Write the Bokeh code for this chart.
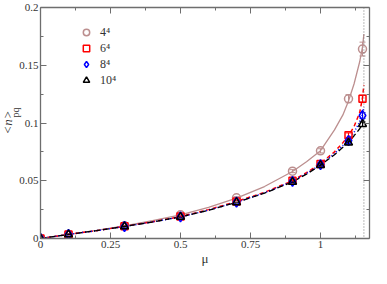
from bokeh.plotting import figure
from bokeh.models import (FixedTicker, LinearAxis, Span, Whisker, ColumnDataSource,
                          Legend, LegendItem, Title, Range1d)
from bokeh.embed import file_html
from bokeh.resources import INLINE

# ---- data ----
mu = [0.0, 0.1, 0.3, 0.5, 0.7, 0.9, 1.0, 1.1, 1.15]
n_L4 = [0.0, 0.0035, 0.0110, 0.0205, 0.0352, 0.0583, 0.0759, 0.1210, 0.1640]
n_L6 = [0.0, 0.0035, 0.0105, 0.0190, 0.0320, 0.0500, 0.0645, 0.0894, 0.1210]
n_L8 = [0.0, 0.0035, 0.0104, 0.0187, 0.0315, 0.0495, 0.0640, 0.0848, 0.1065]
n_L10 = [0.0, 0.0035, 0.0104, 0.0187, 0.0313, 0.0490, 0.0635, 0.0830, 0.0990]
err_L4 = [0.0, 0.0003, 0.0005, 0.0007, 0.0010, 0.0013, 0.0018, 0.0035, 0.0060]
err_L6 = [0.0, 0.0002, 0.0003, 0.0005, 0.0007, 0.0009, 0.0012, 0.0020, 0.0030]
err_L8 = [0.0, 0.0002, 0.0003, 0.0004, 0.0006, 0.0008, 0.0010, 0.0015, 0.0025]
err_L10 = [0.0, 0.0002, 0.0003, 0.0004, 0.0005, 0.0007, 0.0009, 0.0013, 0.0020]

fit_mu = [0.0, 0.1, 0.2, 0.3, 0.4, 0.5, 0.6, 0.7, 0.8, 0.9, 0.95, 1.0, 1.05, 1.08,
          1.1, 1.12, 1.14, 1.15, 1.155]
fit_L4 = [0.0, 0.0035, 0.0070, 0.0110, 0.0155, 0.0205, 0.0270, 0.0350, 0.0450, 0.0580,
          0.0665, 0.0760, 0.0940, 0.1070, 0.1190, 0.1340, 0.1530, 0.1660, 0.1770]
fit_L6 = [0.0, 0.0035, 0.0068, 0.0105, 0.0145, 0.0190, 0.0250, 0.0320, 0.0400, 0.0500,
          0.0570, 0.0650, 0.0750, 0.0830, 0.0890, 0.0970, 0.1090, 0.1220, 0.1330]
fit_L8 = [0.0, 0.0035, 0.0068, 0.0104, 0.0143, 0.0187, 0.0245, 0.0315, 0.0395, 0.0495,
          0.0563, 0.0640, 0.0735, 0.0805, 0.0855, 0.0920, 0.1010, 0.1080, 0.1140]
fit_L10 = [0.0, 0.0035, 0.0068, 0.0104, 0.0143, 0.0187, 0.0244, 0.0313, 0.0392, 0.0490,
           0.0557, 0.0635, 0.0725, 0.0790, 0.0835, 0.0890, 0.0950, 0.0990, 0.1030]

mu_c = 1.155
labels = ["4\u2074", "6\u2074", "8\u2074", "10\u2074"]
x_ticks = [0.0, 0.25, 0.5, 0.75, 1.0]
x_tick_labels = ["0", "0.25", "0.5", "0.75", "1"]
y_ticks = [0.0, 0.05, 0.1, 0.15, 0.2]
y_tick_labels = ["0", "0.05", "0.1", "0.15", "0.2"]
x_minor = [0.125, 0.375, 0.625, 0.875, 1.125]
y_minor = [0.025, 0.075, 0.125, 0.175]

FONT = "Liberation Serif"
AXC = "#6e6e6e"
TXC = "#333333"

p = figure(width=371, height=268, output_backend="svg", toolbar_location=None,
           x_range=Range1d(0, 1.175), y_range=Range1d(0, 0.2),
           min_border_left=0, min_border_right=2, min_border_top=7, min_border_bottom=26,
           x_axis_location=None, y_axis_location=None)
p.grid.visible = False
p.outline_line_color = None
p.background_fill_color = "white"


def style_axis(ax, ticks, minor, tick_labels=None):
    ax.ticker = FixedTicker(ticks=ticks, minor_ticks=minor)
    ax.axis_line_color = AXC
    ax.axis_line_width = 1.3
    ax.major_tick_line_color = AXC
    ax.minor_tick_line_color = AXC
    ax.major_tick_in = 6
    ax.major_tick_out = 0
    ax.minor_tick_in = 3
    ax.minor_tick_out = 0
    if tick_labels is None:
        ax.major_label_text_font_size = "0px"
        ax.major_label_text_alpha = 0
        ax.major_label_overrides = {t: "" for t in ticks}
        ax.major_label_standoff = 0
    else:
        ax.major_label_overrides = {t: s for t, s in zip(ticks, tick_labels)}
        ax.major_label_text_font = FONT
        ax.major_label_text_font_size = "11px"
        ax.major_label_text_color = TXC
        ax.major_label_standoff = 2


xb = LinearAxis()
style_axis(xb, x_ticks, x_minor, x_tick_labels)
xb.axis_label = "\u03bc"
xb.axis_label_text_font = FONT
xb.axis_label_text_font_style = "normal"
xb.axis_label_text_font_size = "13px"
xb.axis_label_text_color = TXC
xb.axis_label_standoff = 0
p.add_layout(xb, "below")

yl = LinearAxis()
style_axis(yl, y_ticks, y_minor, y_tick_labels)
p.add_layout(yl, "left")

# y-axis label "<n>pq": subscript next to the axis, main part outside it
# (align="left" on a left panel: text starts `offset` px above the frame bottom)
p.add_layout(Title(text="pq", align="left", offset=121, standoff=-8,
                   text_font=FONT, text_font_size="10px", text_font_style="normal",
                   text_color=TXC), "left")
p.add_layout(Title(text="<n>", align="left", offset=104, standoff=-6,
                   text_font=FONT, text_font_size="13px", text_font_style="italic",
                   text_color=TXC), "left")

xt = LinearAxis()
style_axis(xt, x_ticks, x_minor)
p.add_layout(xt, "above")

yr = LinearAxis()
style_axis(yr, y_ticks, y_minor)
p.add_layout(yr, "right")

p.add_layout(Span(location=mu_c, dimension="height", line_color="#777777",
                  line_dash="1 2", line_width=1))

series = [
    (n_L4, err_L4, fit_L4, "#bc8f8f", "circle", 8, None, 1.3),
    (n_L6, err_L6, fit_L6, "#ff0000", "square", 7, "4 3", 1.5),
    (n_L8, err_L8, fit_L8, "#0000ff", "diamond", 10, "1 2", 1.5),
    (n_L10, err_L10, fit_L10, "#000000", "triangle", 8, "6 3", 1.3),
]

items = []
for (vals, errs, fit, col, mk, sz, dash, lw), lab in zip(series, labels):
    kw = dict(line_color=col, line_width=lw)
    if dash:
        kw["line_dash"] = dash
    p.line(fit_mu, fit, **kw)

for (vals, errs, fit, col, mk, sz, dash, lw), lab in zip(series, labels):
    src = ColumnDataSource(dict(x=mu, y=vals,
                                lo=[v - e for v, e in zip(vals, errs)],
                                hi=[v + e for v, e in zip(vals, errs)]))
    w = Whisker(base="x", upper="hi", lower="lo", source=src, line_color=col,
                line_width=1)
    w.upper_head.size = 6
    w.lower_head.size = 6
    w.upper_head.line_color = col
    w.lower_head.line_color = col
    p.add_layout(w)
    r = p.scatter("x", "y", source=src, marker=mk, size=sz, fill_color=None,
                  line_color=col, line_width=1.5)
    items.append(LegendItem(label=lab, renderers=[r]))

leg = Legend(items=items, location=(36, 150), orientation="vertical",
             background_fill_alpha=0, border_line_alpha=0,
             label_text_font=FONT, label_text_font_size="12px",
             label_text_color=TXC, glyph_width=20, glyph_height=16,
             label_height=16, spacing=0, padding=0, margin=0,
             label_standoff=4)
p.add_layout(leg)

open("out.html", "w").write(file_html(p, INLINE))
